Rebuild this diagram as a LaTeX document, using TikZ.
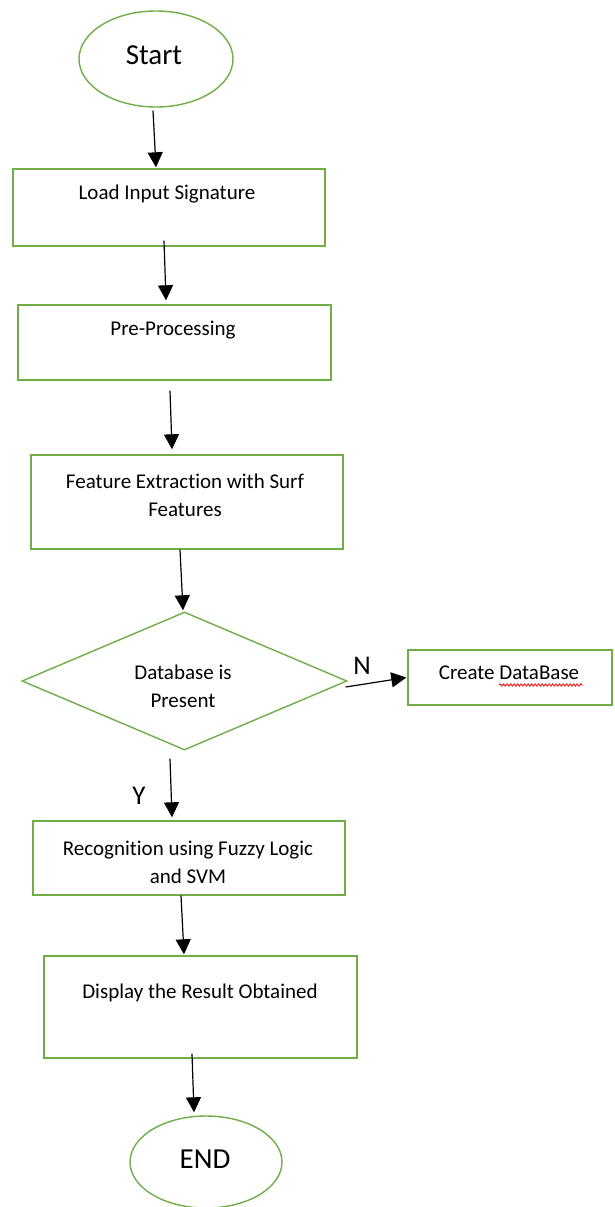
\documentclass[tikz,border=0pt]{standalone}
\usepackage{fontspec}
\setmainfont[Ligatures=CommonOff]{Carlito}
\usetikzlibrary{shapes.geometric,arrows.meta,calc,decorations.pathmorphing}
\definecolor{boxgreen}{HTML}{70AD47}
\begin{document}
\begin{tikzpicture}[x=1pt,y=-1pt,
  box/.style={draw=boxgreen,line width=1.4pt,rectangle,inner sep=0pt,fill=white},
  oval/.style={draw=boxgreen,line width=1.4pt,ellipse,inner sep=0pt},
  dec/.style={draw=boxgreen,line width=1.4pt,diamond,inner sep=0pt},
  txt/.style={inner sep=0pt,font=\fontsize{21}{28}\selectfont,align=center},
  big/.style={inner sep=0pt,font=\fontsize{29}{34}\selectfont},
  lab/.style={inner sep=0pt,font=\fontsize{27}{32}\selectfont},
  arr/.style={line width=1.2pt,-{Triangle[width=15pt,length=15pt]}}]
\useasboundingbox (0,0) rectangle (614,1207);
% nodes
\node[oval,minimum width=154,minimum height=96] (start) at (156,59) {};
\node[big,anchor=base] (starttxt) at (154,65) {Start};
\node[box,minimum width=312,minimum height=77] (b1) at (169,207.5) {};
\node[txt,anchor=base] (t1) at (167,199) {Load Input Signature};
\node[box,minimum width=313,minimum height=75] (b2) at (174.5,342.5) {};
\node[txt,anchor=base] (t2) at (173,335) {Pre-Processing};
\node[box,minimum width=312,minimum height=94] (b3) at (187,502) {};
\node[txt] (t3) at (185,495) {Feature Extraction with Surf\\Features};
\node[dec,minimum width=325,minimum height=138] (dia) at (184.5,681) {};
\node[txt] (tdia) at (183,686) {Database is\\Present};
\node[box,minimum width=204,minimum height=55] (cdb) at (510,677.5) {};
\node[txt,anchor=base] (tcdb) at (509,679) {Create DataBase};
\draw[red,line width=0.8pt,decorate,decoration={snake,amplitude=1.2pt,segment length=3.5pt}] (499,685) -- (583,685);
\node[box,minimum width=312,minimum height=74] (b4) at (189,858) {};
\node[txt] (t4) at (188,862) {Recognition using Fuzzy Logic\\and SVM};
\node[box,minimum width=313,minimum height=102] (b5) at (200.5,1007) {};
\node[txt,anchor=base] (t5) at (200,998) {Display the Result Obtained};
\node[oval,minimum width=152,minimum height=92] (endn) at (206,1162) {};
\node[big,anchor=base] (endtxt) at (205,1168) {END};
\node[lab] (nlab) at (362,666) {N};
\node[lab] (ylab) at (139,796) {Y};
% connectors
\draw[arr] ([xshift=-3pt,yshift=-3pt]start.south) -- ([xshift=-13pt,yshift=1pt]b1.north);
\draw[arr] ([xshift=-5pt,yshift=6pt]b1.south) -- ([xshift=-8.5pt,yshift=4pt]b2.north);
\draw[arr] ([xshift=-4.5pt,yshift=-10pt]b2.south) -- ([xshift=-15pt,yshift=5pt]b3.north);
\draw[arr] ([xshift=-7pt]b3.south) -- ([xshift=-1.5pt,yshift=1pt]dia.north);
\draw[arr] ([xshift=-2pt,yshift=-6pt]dia.east) -- ([xshift=-1pt]cdb.west);
\draw[arr] ([xshift=-14.5pt,yshift=-8pt]dia.south) -- ([xshift=-17pt,yshift=3pt]b4.north);
\draw[arr] ([xshift=-8pt]b4.south) -- ([xshift=-16.5pt,yshift=1pt]b5.north);
\draw[arr] ([xshift=-8.5pt,yshift=5pt]b5.south) -- ([xshift=-12pt,yshift=3pt]endn.north);
\end{tikzpicture}
\end{document}
